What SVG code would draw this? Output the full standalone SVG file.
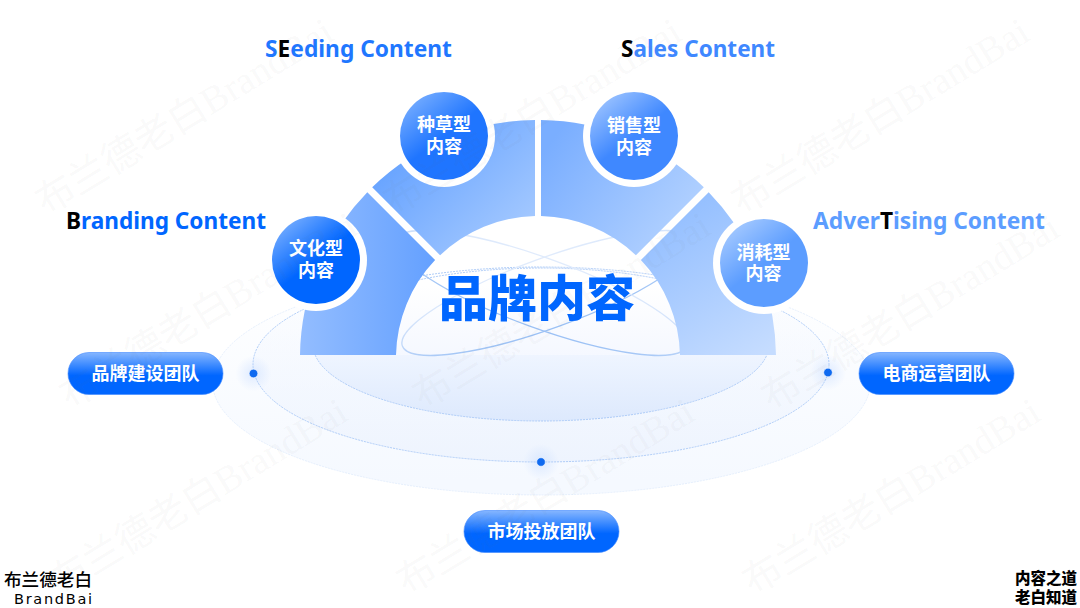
<svg xmlns="http://www.w3.org/2000/svg" width="1080" height="608" viewBox="0 0 1080 608">
<style>
.cjk{font-family:"Noto Sans CJK SC","Noto Sans",sans-serif}
.head{font-family:"Noto Sans","Open Sans",sans-serif;font-weight:700;font-size:23px}
.node{font-family:"Noto Sans CJK SC",sans-serif;font-weight:700;font-size:18px;fill:#fff;text-anchor:middle}
.wm{font-family:"Liberation Serif","Noto Sans CJK SC",serif;font-size:38.5px;fill:#707070;fill-opacity:.055}
.halo{fill:#fff}
.dash{fill:none;stroke:#a6c6f6;stroke-width:.9;stroke-dasharray:2 1}
.tilt{fill:none;stroke:url(#tiltStroke);stroke-width:1.3}
.dot{fill:#0f6af0;stroke:#fff;stroke-opacity:.7;stroke-width:.8}
.k{fill:#000}
</style>
<defs>
<linearGradient id="outerF" gradientUnits="userSpaceOnUse" x1="0" y1="269" x2="0" y2="480"><stop offset="0" stop-color="#fff"/><stop offset="1" stop-color="#f5f9ff"/></linearGradient>
<linearGradient id="midF" gradientUnits="userSpaceOnUse" x1="0" y1="268" x2="0" y2="462"><stop offset="0" stop-color="#f4f8ff" stop-opacity="0"/><stop offset="1" stop-color="#eef4fe"/></linearGradient>
<linearGradient id="innerF" gradientUnits="userSpaceOnUse" x1="0" y1="268" x2="0" y2="421"><stop offset="0" stop-color="#f7faff"/><stop offset=".56" stop-color="#eff5ff"/><stop offset="1" stop-color="#dde9fd"/></linearGradient>
<linearGradient id="holeF" gradientUnits="userSpaceOnUse" x1="0" y1="285" x2="0" y2="355"><stop offset="0" stop-color="#fff"/><stop offset="1" stop-color="#f5f8ff"/></linearGradient>
<linearGradient id="tiltStroke" gradientUnits="userSpaceOnUse" x1="0" y1="238" x2="0" y2="355"><stop offset="0" stop-color="#eef4fd"/><stop offset=".3" stop-color="#d5e4fb"/><stop offset="1" stop-color="#7fb0f2"/></linearGradient>
<linearGradient id="s1" gradientUnits="userSpaceOnUse" x1="300" y1="0" x2="440" y2="0"><stop offset="0" stop-color="#93bdff"/><stop offset="1" stop-color="#629fff"/></linearGradient>
<linearGradient id="s2" gradientUnits="userSpaceOnUse" x1="400" y1="160" x2="510" y2="270"><stop offset="0" stop-color="#6aa5ff"/><stop offset="1" stop-color="#abcdff"/></linearGradient>
<linearGradient id="s3" gradientUnits="userSpaceOnUse" x1="545" y1="150" x2="680" y2="250"><stop offset="0" stop-color="#7aaeff"/><stop offset="1" stop-color="#b5d3ff"/></linearGradient>
<linearGradient id="s4" gradientUnits="userSpaceOnUse" x1="660" y1="200" x2="760" y2="355"><stop offset="0" stop-color="#8fbcff"/><stop offset="1" stop-color="#c5dcff"/></linearGradient>
<linearGradient id="c1" x1=".15" y1=".05" x2=".5" y2=".5"><stop offset="0" stop-color="#76adff"/><stop offset="1" stop-color="#0066ff"/></linearGradient>
<linearGradient id="c2" x1=".15" y1=".05" x2=".5" y2=".5"><stop offset="0" stop-color="#76adff"/><stop offset="1" stop-color="#1f75ff"/></linearGradient>
<linearGradient id="c3" x1=".15" y1=".05" x2=".5" y2=".5"><stop offset="0" stop-color="#9cc3ff"/><stop offset="1" stop-color="#3f88ff"/></linearGradient>
<linearGradient id="c4" x1=".15" y1=".05" x2=".5" y2=".5"><stop offset="0" stop-color="#a6caff"/><stop offset="1" stop-color="#5c9dff"/></linearGradient>
<linearGradient id="pill" x1="0" y1="0" x2="0" y2="1"><stop offset="0" stop-color="#86b6ff"/><stop offset=".55" stop-color="#0066ff"/><stop offset="1" stop-color="#0066ff"/></linearGradient>
<radialGradient id="glow"><stop offset="0" stop-color="#c9ddff" stop-opacity=".55"/><stop offset="1" stop-color="#c9ddff" stop-opacity="0"/></radialGradient>
</defs>
<rect width="1080" height="608" fill="#fff"/>

<g id="connectors">
<ellipse cx="541.5" cy="382" rx="329" ry="113" fill="url(#outerF)" stroke="#e0ebfb" stroke-width=".8" stroke-dasharray="2 1"/>
<ellipse cx="541" cy="364.5" rx="288" ry="97.5" fill="url(#midF)"/>
<ellipse cx="541" cy="344.5" rx="228" ry="76.5" fill="url(#innerF)"/>
<circle cx="253.500" cy="373.500" r="18" fill="url(#glow)"/>
<circle cx="828" cy="372.500" r="18" fill="url(#glow)"/>
<circle cx="541" cy="462" r="18" fill="url(#glow)"/>
<path d="M396,355A142,142 0 0 1 680,355Z" fill="url(#holeF)"/>
<ellipse class="dash" cx="541" cy="364.500" rx="288" ry="97.500"/>
<ellipse class="dash" cx="541" cy="344.500" rx="228" ry="76.500"/>
<ellipse class="tilt" cx="548" cy="293" rx="155" ry="35" transform="rotate(-20 548 293)"/>
<ellipse class="tilt" cx="541" cy="293" rx="155" ry="35" transform="rotate(20 541 293)"/>
<circle class="dot" cx="253.500" cy="373.500" r="4.300"/>
<circle class="dot" cx="828" cy="372.500" r="4.300"/>
<circle class="dot" cx="541" cy="462" r="4.300"/>
</g>

<g id="arch">
<path id="seg-branding" d="M300,355A238,238 0 0 1 367.300,192.200L435.100,260.100A142,142 0 0 0 396,355Z" fill="url(#s1)"/>
<path id="seg-seeding" d="M372.200,187.300A238,238 0 0 1 535,120L535,216A142,142 0 0 0 440.100,255.200Z" fill="url(#s2)"/>
<path id="seg-sales" d="M541,120A238,238 0 0 1 703.800,187.300L635.900,255.200A142,142 0 0 0 541,216Z" fill="url(#s3)"/>
<path id="seg-advertising" d="M708.700,192.200A238,238 0 0 1 776,355L680,355A142,142 0 0 0 640.900,260.100Z" fill="url(#s4)"/>
</g>

<g id="title"><text class="cjk" x="537" y="316" text-anchor="middle" font-size="49" font-weight="900" fill="#0066ff">品牌内容</text></g>

<g id="node-culture"><circle class="halo" cx="316" cy="260" r="51"/><circle cx="316" cy="260" r="44" fill="url(#c1)"/><text class="node" x="316" y="254.500">文化型</text><text class="node" x="316" y="276.500">内容</text></g>
<g id="node-seeding"><circle class="halo" cx="444" cy="136" r="51"/><circle cx="444" cy="136" r="44" fill="url(#c2)"/><text class="node" x="444" y="130.500">种草型</text><text class="node" x="444" y="152.500">内容</text></g>
<g id="node-sales"><circle class="halo" cx="634" cy="136" r="51"/><circle cx="634" cy="136" r="44" fill="url(#c3)"/><text class="node" x="634" y="131.500">销售型</text><text class="node" x="634" y="153.500">内容</text></g>
<g id="node-consume"><circle class="halo" cx="764" cy="263" r="51"/><circle cx="764" cy="263" r="44" fill="url(#c4)"/><text class="node" x="763.500" y="258.500">消耗型</text><text class="node" x="763.500" y="280">内容</text></g>

<g id="headings">
<text class="head" x="265" y="57" textLength="187" lengthAdjust="spacingAndGlyphs" fill="#1f77ff">S<tspan class="k">E</tspan>eding Content</text>
<text class="head" x="66" y="229" textLength="200" lengthAdjust="spacingAndGlyphs" fill="#0066ff"><tspan class="k">B</tspan>randing Content</text>
<text class="head" x="621" y="57" textLength="154" lengthAdjust="spacingAndGlyphs" fill="#3f88ff"><tspan class="k">S</tspan>ales Content</text>
<text class="head" x="813" y="229" textLength="232" lengthAdjust="spacingAndGlyphs" fill="#5c9dff">Adver<tspan class="k">T</tspan>ising Content</text>
</g>

<g id="team-brand"><rect x="68" y="352.500" width="155" height="42" rx="21" fill="url(#pill)" stroke="#3f88ff" stroke-width=".6"/><text class="node" x="145.500" y="380">品牌建设团队</text></g>
<g id="team-ecom"><rect x="859" y="352.500" width="155" height="42" rx="21" fill="url(#pill)" stroke="#3f88ff" stroke-width=".6"/><text class="node" x="936.500" y="380">电商运营团队</text></g>
<g id="team-market"><rect x="464" y="510.500" width="155" height="42" rx="21" fill="url(#pill)" stroke="#3f88ff" stroke-width=".6"/><text class="node" x="541.500" y="538">市场投放团队</text></g>

<g id="watermarks">
<text class="wm" transform="translate(46,216) rotate(-31.4)">布兰德老白BrandBai</text>
<text class="wm" transform="translate(394,216) rotate(-31.4)">布兰德老白BrandBai</text>
<text class="wm" transform="translate(742,216) rotate(-31.4)">布兰德老白BrandBai</text>
<text class="wm" transform="translate(70,410) rotate(-31.4)">布兰德老白BrandBai</text>
<text class="wm" transform="translate(423,410) rotate(-31.4)">布兰德老白BrandBai</text>
<text class="wm" transform="translate(772,412) rotate(-31.4)">布兰德老白BrandBai</text>
<text class="wm" transform="translate(60,596) rotate(-31.4)">布兰德老白BrandBai</text>
<text class="wm" transform="translate(407,596) rotate(-31.4)">布兰德老白BrandBai</text>
<text class="wm" transform="translate(753,596) rotate(-31.4)">布兰德老白BrandBai</text>
</g>

<g id="logo">
<text class="cjk" x="4" y="586" font-size="17.600" font-weight="500" fill="#000">布兰德老白</text>
<text x="14" y="604" font-family="DejaVu Sans,sans-serif" font-size="14.500" textLength="78" lengthAdjust="spacing" fill="#000">BrandBai</text>
</g>
<g id="motto" class="cjk" font-size="15.500" font-weight="900" fill="#000">
<text x="1015" y="584">内容之道</text>
<text x="1015" y="602.500">老白知道</text>
</g>
</svg>
